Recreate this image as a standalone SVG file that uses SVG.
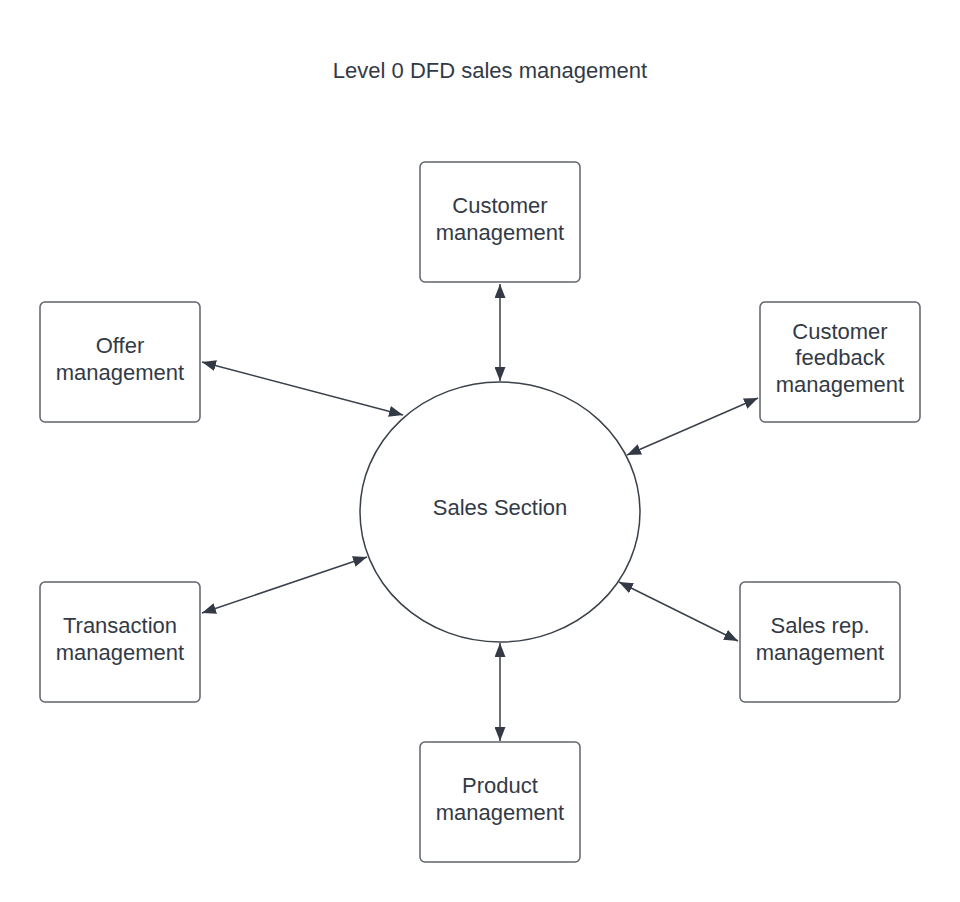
<svg xmlns="http://www.w3.org/2000/svg" width="960" height="902" viewBox="0 0 960 902">
<style>
.box{fill:#ffffff;stroke:#5f636b;stroke-width:1.5}
.circ{fill:#ffffff;stroke:#3a414a;stroke-width:1.5}
.lbl{font-family:"Liberation Sans",Arial,sans-serif;font-size:22px;fill:#333a45;text-anchor:middle;dominant-baseline:central}
.edge{stroke:#3a414a;stroke-width:1.5;fill:none;marker-start:url(#ah);marker-end:url(#ah)}
</style>
<defs>
<marker id="ah" viewBox="0 0 14 11" refX="14" refY="5.5" markerWidth="14" markerHeight="11" markerUnits="userSpaceOnUse" orient="auto-start-reverse">
<path d="M0,0 L14,5.5 L0,11 z" fill="#333a45"/>
</marker>
</defs>
<rect width="960" height="902" fill="#ffffff"/>
<text class="lbl" x="490" y="70">Level 0 DFD sales management</text>
<g id="connectors">
<line class="edge" x1="500" y1="284" x2="500" y2="381"/>
<line class="edge" x1="202" y1="362" x2="403" y2="415"/>
<line class="edge" x1="627" y1="455" x2="758" y2="398"/>
<line class="edge" x1="202" y1="613" x2="367" y2="557"/>
<line class="edge" x1="619" y1="582" x2="738" y2="641"/>
<line class="edge" x1="500" y1="643" x2="500" y2="741"/>
</g>
<g id="sales">
<ellipse class="circ" cx="500" cy="512" rx="140" ry="130"/>
<text class="lbl" x="500" y="507">Sales Section</text>
</g>
<g id="customer">
<rect class="box" x="420" y="162" width="160" height="120" rx="5"/>
<text class="lbl" x="500" y="205">Customer</text>
<text class="lbl" x="500" y="232">management</text>
</g>
<g id="offer">
<rect class="box" x="40" y="302" width="160" height="120" rx="5"/>
<text class="lbl" x="120" y="345">Offer</text>
<text class="lbl" x="120" y="372">management</text>
</g>
<g id="feedback">
<rect class="box" x="760" y="302" width="160" height="120" rx="5"/>
<text class="lbl" x="840" y="331">Customer</text>
<text class="lbl" x="840" y="357">feedback</text>
<text class="lbl" x="840" y="384">management</text>
</g>
<g id="transaction">
<rect class="box" x="40" y="582" width="160" height="120" rx="5"/>
<text class="lbl" x="120" y="625">Transaction</text>
<text class="lbl" x="120" y="652">management</text>
</g>
<g id="salesrep">
<rect class="box" x="740" y="582" width="160" height="120" rx="5"/>
<text class="lbl" x="820" y="625">Sales rep.</text>
<text class="lbl" x="820" y="652">management</text>
</g>
<g id="product">
<rect class="box" x="420" y="742" width="160" height="120" rx="5"/>
<text class="lbl" x="500" y="785">Product</text>
<text class="lbl" x="500" y="812">management</text>
</g>
</svg>
